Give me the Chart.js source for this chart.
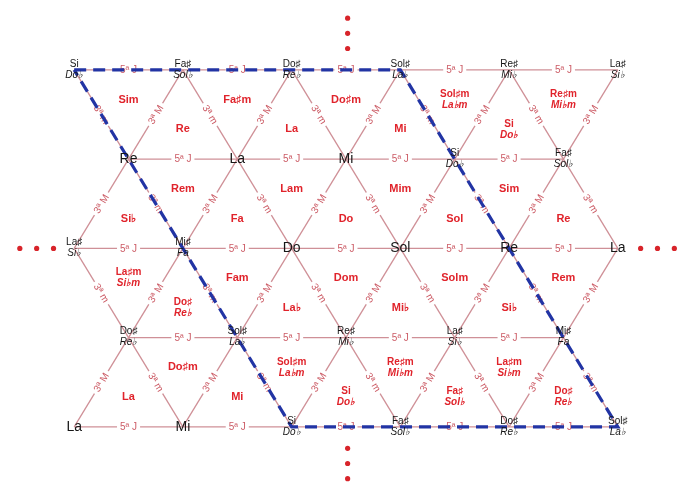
<!DOCTYPE html>
<html>
<head>
<meta charset="utf-8">
<script src="https://cdn.jsdelivr.net/npm/chart.js@4.4.1/dist/chart.umd.min.js"></script>
<style>
  html, body { margin: 0; padding: 0; background: #fff; }
  canvas { display: block; }
</style>
</head>
<body>
<canvas id="tonnetz" width="690" height="486"></canvas>
<script>
// lattice columns are half steps, rows go top to bottom
const rowCols = [
  [0, 2, 4, 6, 8, 10],
  [1, 3, 5, 7, 9],
  [0, 2, 4, 6, 8, 10],
  [1, 3, 5, 7, 9],
  [0, 2, 4, 6, 8, 10],
];
const noteNames = [
  ["Si", "Fa♯", "Do♯", "Sol♯", "Re♯", "La♯"],
  ["Re", "La", "Mi", "Si", "Fa♯"],
  ["La♯", "Mi♯", "Do", "Sol", "Re", "La"],
  ["Do♯", "Sol♯", "Re♯", "La♯", "Mi♯"],
  ["La", "Mi", "Si", "Fa♯", "Do♯", "Sol♯"],
];
const noteAlt = [
  ["Do♭", "Sol♭", "Re♭", "La♭", "Mi♭", "Si♭"],
  ["", "", "", "Do♭", "Sol♭"],
  ["Si♭", "Fa", "", "", "", ""],
  ["Re♭", "La♭", "Mi♭", "Si♭", "Fa"],
  ["", "", "Do♭", "Sol♭", "Re♭", "La♭"],
];
// triangles between row r and r+1, columns 1..9
const chordNames = [
  ["Sim", "Re", "Fa♯m", "La", "Do♯m", "Mi", "Sol♯m", "Si", "Re♯m"],
  ["Si♭", "Rem", "Fa", "Lam", "Do", "Mim", "Sol", "Sim", "Re"],
  ["La♯m", "Do♯", "Fam", "La♭", "Dom", "Mi♭", "Solm", "Si♭", "Rem"],
  ["La", "Do♯m", "Mi", "Sol♯m", "Si", "Re♯m", "Fa♯", "La♯m", "Do♯"],
];
const chordAlt = [
  ["", "", "", "", "", "", "La♭m", "Do♭", "Mi♭m"],
  ["", "", "", "", "", "", "", "", ""],
  ["Si♭m", "Re♭", "", "", "", "", "", "", ""],
  ["", "", "", "La♭m", "Do♭", "Mi♭m", "Sol♭", "Si♭m", "Re♭"],
];
const fifthLabel = "5ª J";
const majorThirdLabel = "3ª M";
const minorThirdLabel = "3ª m";

// fundamental domain (dashed)
const domainX = [0, 6, 10, 4, 0];
const domainY = [0, 0, 4, 4, 0];

// continuation dots
const dotsX = [5.03, 5.03, 5.03, 5.03, 5.03, 5.03, -1.0, -0.69, -0.38, 10.42, 10.73, 11.04];
const dotsY = [-0.58, -0.41, -0.24, 4.24, 4.41, 4.58, 2, 2, 2, 2, 2, 2];

const edges = [];
rowCols.forEach((cols, r) => {
  for (let i = 0; i + 1 < cols.length; i++) {
    edges.push({ a: [cols[i], r], b: [cols[i + 1], r], label: fifthLabel });
  }
  if (r + 1 < rowCols.length) {
    cols.forEach(c => {
      rowCols[r + 1].forEach(c2 => {
        if (c2 === c - 1) edges.push({ a: [c, r], b: [c2, r + 1], label: majorThirdLabel });
        if (c2 === c + 1) edges.push({ a: [c, r], b: [c2, r + 1], label: minorThirdLabel });
      });
    });
  }
});

const lineColor = "#cf9097";
const edgeTextColor = "#cc5c66";
const chordColor = "#e0232b";
const noteColor = "#161616";

const datasets = [
  {
    data: domainX.map((x, i) => ({ x, y: domainY[i] })),
    showLine: true,
    borderColor: "#2234a4",
    borderWidth: 3.2,
    borderDash: [12, 7],
    pointRadius: 0,
    order: 0,
  },
  {
    data: dotsX.map((x, i) => ({ x, y: dotsY[i] })),
    showLine: false,
    pointRadius: 2.6,
    pointBorderWidth: 0,
    pointBackgroundColor: "#d8242a",
    order: 0,
  },
];
edges.forEach(e => {
  datasets.push({
    data: [{ x: e.a[0], y: e.a[1] }, { x: e.b[0], y: e.b[1] }],
    showLine: true,
    borderColor: lineColor,
    borderWidth: 1.3,
    pointRadius: 0,
    order: 1,
  });
});

const latticeText = {
  id: "latticeText",
  beforeDatasetDraw(chart, args) {
    if (args.index !== 0) return;
    const { ctx, scales: { x, y } } = chart;
    ctx.save();
    ctx.font = "10px Arial, 'Liberation Sans', sans-serif";
    ctx.textAlign = "center";
    ctx.textBaseline = "middle";
    edges.forEach(e => {
      const x1 = x.getPixelForValue(e.a[0]), y1 = y.getPixelForValue(e.a[1]);
      const x2 = x.getPixelForValue(e.b[0]), y2 = y.getPixelForValue(e.b[1]);
      let ang = Math.atan2(y2 - y1, x2 - x1);
      if (ang > Math.PI / 2) ang -= Math.PI;
      if (ang < -Math.PI / 2) ang += Math.PI;
      ctx.save();
      ctx.translate((x1 + x2) / 2, (y1 + y2) / 2);
      ctx.rotate(ang);
      const w = ctx.measureText(e.label).width;
      ctx.fillStyle = "#fff";
      ctx.fillRect(-w / 2 - 3, -5, w + 6, 10);
      ctx.fillStyle = edgeTextColor;
      ctx.fillText(e.label, 0, 0.5);
      ctx.restore();
    });
    ctx.restore();
  },
  afterDatasetsDraw(chart) {
    const { ctx, scales: { x, y } } = chart;
    ctx.save();
    ctx.textAlign = "center";
    ctx.textBaseline = "middle";
    // chord names in the triangles
    chordNames.forEach((band, r) => {
      band.forEach((name, i) => {
        const c = i + 1;
        const off = (c + r) % 2 === 1 ? 1 / 3 : 2 / 3;
        const px = x.getPixelForValue(c), py = y.getPixelForValue(r + off);
        const alt = chordAlt[r][i];
        ctx.fillStyle = chordColor;
        if (alt) {
          ctx.font = "bold 10px Arial, 'Liberation Sans', sans-serif";
          ctx.fillText(name, px, py - 5.5);
          ctx.font = "italic bold 10px Arial, 'Liberation Sans', sans-serif";
          ctx.fillText(alt, px, py + 5.5);
        } else {
          ctx.font = "bold 11px Arial, 'Liberation Sans', sans-serif";
          ctx.fillText(name, px, py);
        }
      });
    });
    // note names at the nodes
    rowCols.forEach((cols, r) => {
      cols.forEach((c, i) => {
        const px = x.getPixelForValue(c), py = y.getPixelForValue(r);
        const alt = noteAlt[r][i];
        ctx.fillStyle = noteColor;
        if (alt) {
          ctx.font = "10px Arial, 'Liberation Sans', sans-serif";
          ctx.fillText(noteNames[r][i], px, py - 6);
          ctx.font = "italic 10px Arial, 'Liberation Sans', sans-serif";
          ctx.fillText(alt, px, py + 5);
        } else {
          ctx.font = "14px Arial, 'Liberation Sans', sans-serif";
          ctx.fillText(noteNames[r][i], px, py);
        }
      });
    });
    ctx.restore();
  },
};

const xUnit = 55;
const yUnit = 90.75;
const xMin = -71 / xUnit;
const yMin = -67 / yUnit;

new Chart(document.getElementById("tonnetz"), {
  type: "scatter",
  data: { datasets },
  options: {
    responsive: false,
    animation: false,
    layout: { padding: 0 },
    plugins: { legend: { display: false }, tooltip: { enabled: false } },
    scales: {
      x: { type: "linear", display: false, min: xMin, max: xMin + 690 / xUnit },
      y: { type: "linear", display: false, reverse: true, min: yMin, max: yMin + 486 / yUnit },
    },
  },
  plugins: [latticeText],
});
</script>
</body>
</html>
